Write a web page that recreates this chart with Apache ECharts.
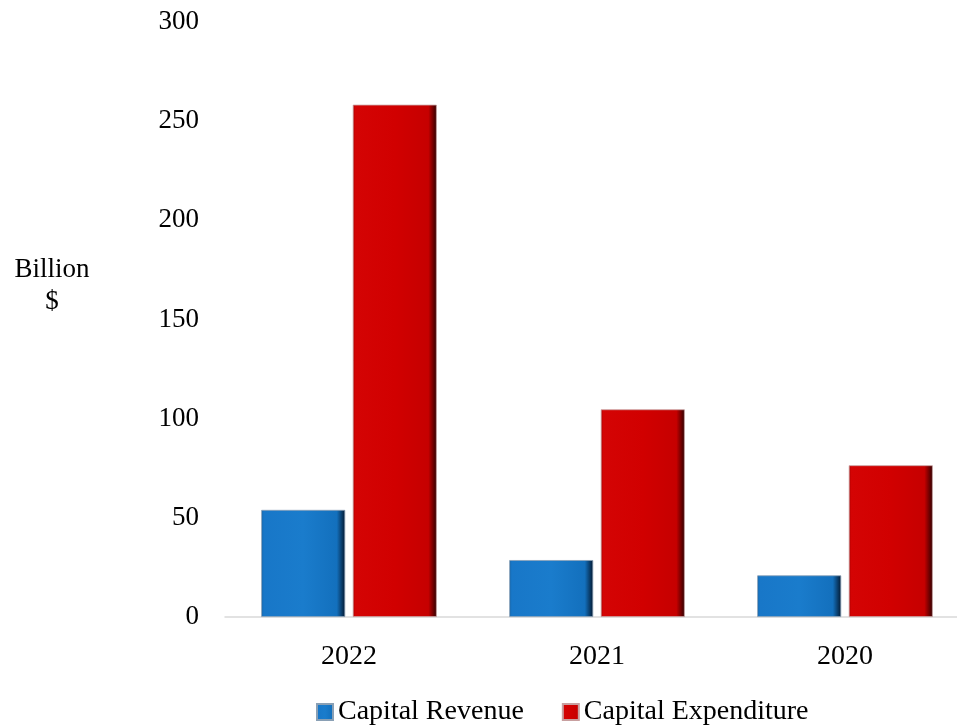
<!DOCTYPE html>
<html>
<head>
<meta charset="utf-8">
<script src="https://cdn.jsdelivr.net/npm/echarts@6/dist/echarts.min.js"></script>
<style>
html,body{margin:0;padding:0;background:#fff;}
#chart{width:957px;height:727px;}
</style>
</head>
<body>
<div id="chart"></div>
<script>
const categories = ['2022', '2021', '2020'];
const capitalRevenue = [54, 28.7, 21];
const capitalExpenditure = [258.3, 104.7, 76.5];
const yTicks = { min: 0, max: 300, interval: 50 };
const seriesNames = ['Capital Revenue', 'Capital Expenditure'];

const FONT = "'Liberation Serif', 'Times New Roman', serif";

function grad(stops) {
  return new echarts.graphic.LinearGradient(0, 0, 1, 0, stops.map((c) => ({ offset: c[0], color: c[1] })));
}
const blueFill = grad([[0, '#0d5fa3'], [0.03, '#1877c8'], [0.5, '#1a7ccc'], [0.9, '#1370bd'], [1, '#03182f']]);
const redFill = grad([[0, '#a80000'], [0.03, '#d40404'], [0.5, '#d10000'], [0.9, '#c60000'], [1, '#2e0000']]);

const chart = echarts.init(document.getElementById('chart'), null, { renderer: 'canvas' });
chart.setOption({
  backgroundColor: '#ffffff',
  animation: false,
  textStyle: { fontFamily: FONT, color: '#000' },
  grid: { left: 225, top: 22, width: 744, height: 595, containLabel: false, outerBoundsMode: 'none' },
  legend: {
    left: 311, top: 693,
    itemWidth: 16, itemHeight: 16, itemGap: 38,
    icon: 'rect',
    textStyle: { fontFamily: FONT, fontSize: 28, color: '#000' },
    data: seriesNames
  },
  graphic: [{
    type: 'text', x: 52, y: 254,
    style: { text: 'Billion\n$', fontFamily: FONT, fontSize: 27, lineHeight: 32, fill: '#000', align: 'center' }
  }],
  xAxis: {
    type: 'category',
    data: categories,
    axisLine: { show: true, lineStyle: { color: '#d9d9d9', width: 1.5 } },
    axisTick: { show: false },
    axisLabel: { fontFamily: FONT, fontSize: 28, color: '#000', margin: 26 }
  },
  yAxis: {
    type: 'value',
    min: yTicks.min, max: yTicks.max, interval: yTicks.interval,
    axisLine: { show: false },
    axisTick: { show: false },
    splitLine: { show: false },
    axisLabel: { fontFamily: FONT, fontSize: 27, color: '#000', margin: 26 }
  },
  series: [
    {
      name: seriesNames[0], type: 'bar', data: capitalRevenue,
      barWidth: 84, barGap: '9%',
      itemStyle: { color: blueFill, borderColor: '#8aa0b5', borderWidth: 0.8 }
    },
    {
      name: seriesNames[1], type: 'bar', data: capitalExpenditure,
      barWidth: 84,
      itemStyle: { color: redFill, borderColor: '#c8a0a0', borderWidth: 0.8 }
    }
  ]
});
</script>
</body>
</html>
